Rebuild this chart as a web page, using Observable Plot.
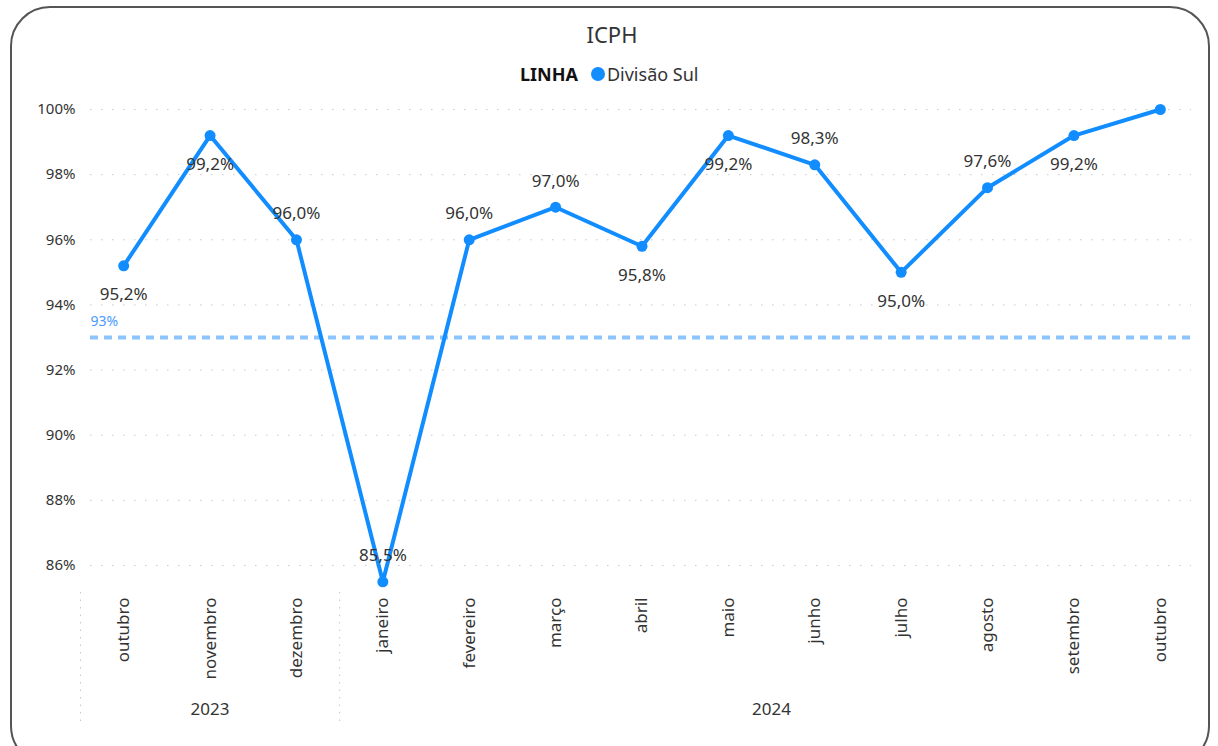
<!DOCTYPE html>
<html>
<head>
<meta charset="utf-8">
<script src="https://cdn.jsdelivr.net/npm/d3@7"></script>
<script src="https://cdn.jsdelivr.net/npm/@observablehq/plot@0.6"></script>
<style>
  html, body { margin: 0; padding: 0; background: #fff; }
  body { width: 1218px; height: 746px; overflow: hidden; position: relative; font-family: "Segoe UI", "Noto Sans", "Open Sans", sans-serif; }
  #card { position: absolute; left: 10px; top: 6px; width: 1200px; height: 760px; border: 2px solid #555; border-radius: 40px; box-sizing: border-box; }
  #title { position: absolute; top: 19px; left: 0; width: 1224px; text-align: center; font-size: 22px; color: #333; }
  #legend { position: absolute; top: 62px; left: 520px; font-size: 18px; color: #333; display: flex; align-items: center; white-space: nowrap; }
  #legend b { color: #111; margin-right: 13px; }
  #legend .dot { display: inline-block; width: 14px; height: 14px; border-radius: 50%; background: #118DFF; margin-right: 2px; }
  #chart { position: absolute; left: 0; top: 90px; }
</style>
</head>
<body>
<div id="card"></div>
<div id="title">ICPH</div>
<div id="legend"><b>LINHA</b><span class="dot"></span><span>Divisão Sul</span></div>
<div id="chart"></div>
<script>
const months = ["outubro","novembro","dezembro","janeiro","fevereiro","março","abril","maio","junho","julho","agosto","setembro","outubro"];
const years = ["2023","2023","2023","2024","2024","2024","2024","2024","2024","2024","2024","2024","2024"];
const values = [95.2, 99.2, 96.0, 85.5, 96.0, 97.0, 95.8, 99.2, 98.3, 95.0, 97.6, 99.2, 100.0];
const labelBelow = [true, true, false, false, false, false, true, true, false, true, false, true, null];
const target = 93;
const yTicks = [86, 88, 90, 92, 94, 96, 98, 100];

const data = values.map((v, i) => ({i, month: months[i], year: years[i], value: v, below: labelBelow[i]}));
const yearGroups = d3.groups(data, d => d.year).map(([year, rows]) => ({
  year, first: d3.min(rows, r => r.i), last: d3.max(rows, r => r.i)
}));

const fmt = v => v.toFixed(1).replace(".", ",") + "%";
const blue = "#118DFF";
const font = "'Segoe UI', 'Noto Sans', sans-serif";

const chart = Plot.plot({
  width: 1218,
  height: 656,
  marginLeft: 80,
  marginRight: 15,
  marginTop: 0,
  marginBottom: 156,
  style: {fontFamily: font, color: "#333", background: "transparent", overflow: "visible"},
  x: {type: "linear", domain: [-0.5, months.length - 0.5], range: [80, 1203], axis: null, label: null},
  y: {domain: [86, 100], range: [475, 19], axis: null, label: null},
  marks: [
    Plot.gridY(yTicks, {stroke: "#c8c8c8", strokeOpacity: 1, strokeDasharray: "1.5,9.5", insetLeft: 10, insetRight: 12}),
    Plot.axisY(yTicks, {tickSize: 0, tickPadding: 5, tickFormat: d => d + "%", fontSize: 15, fill: "#333", label: null}),
    Plot.axisX(data.map(d => d.i), {anchor: "bottom", tickSize: 0, tickPadding: 7, tickRotate: -90, tickFormat: i => months[i], fontSize: 17, fill: "#333", label: null}),
    Plot.ruleX(yearGroups, {x: d => d.first - 0.5, stroke: "#c8c8c8", strokeDasharray: "1.5,6", insetTop: 370, dy: 132}),
    Plot.text(yearGroups, {x: d => (d.first + d.last) / 2, text: "year", frameAnchor: "bottom", dy: 124, fontSize: 17, fill: "#333"}),
    Plot.ruleY([target], {stroke: "#8cc4ff", strokeWidth: 4, strokeDasharray: "8,6", insetLeft: 10, insetRight: 8}),
    Plot.text([target], {y: d => d, text: d => d + "%", frameAnchor: "left", textAnchor: "start", dx: 10, dy: -16, fontSize: 14, fill: "#4a9bff"}),
    Plot.line(data, {x: "i", y: "value", stroke: blue, strokeWidth: 4, strokeLinejoin: "round"}),
    Plot.dot(data, {x: "i", y: "value", r: 5.5, fill: blue}),
    Plot.text(data.filter(d => d.below === true), {x: "i", y: "value", text: d => fmt(d.value), dy: 29, fontSize: 17, fill: "#333"}),
    Plot.text(data.filter(d => d.below === false), {x: "i", y: "value", text: d => fmt(d.value), dy: -26, fontSize: 17, fill: "#333"})
  ]
});
document.getElementById("chart").appendChild(chart);
</script>
</body>
</html>
